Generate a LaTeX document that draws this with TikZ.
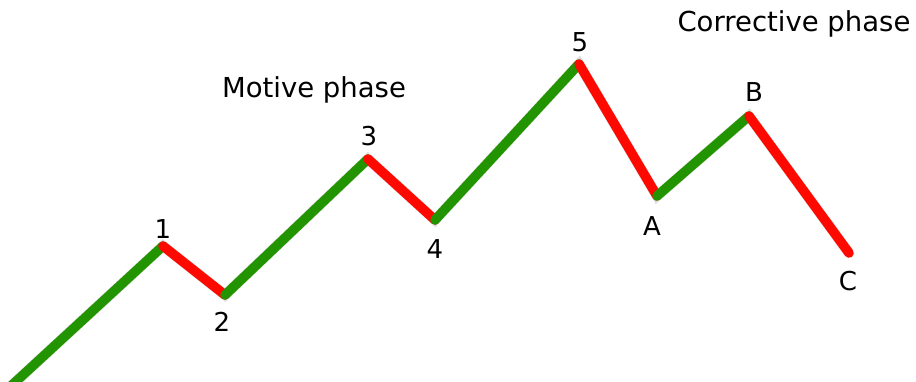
\documentclass[tikz,border=0pt]{standalone}
\usepackage{fontspec}
\setmainfont{DejaVu Sans}
\definecolor{wgreen}{RGB}{34,148,0}
\definecolor{wred}{RGB}{255,8,0}
\begin{document}
\begin{tikzpicture}[x=1pt,y=-1pt,
  seg/.style={line width=9.5pt,line cap=round,line join=round},
  up/.style={seg,draw=wgreen},
  down/.style={seg,draw=wred},
  shadowseg/.style={line width=10.5pt,line cap=round,draw=black,opacity=0.12,shift={(1.5,1.5)}},
  lbl/.style={font=\fontsize{26}{28}\selectfont,text=black,inner sep=0pt},
  phase/.style={font=\fontsize{27.5}{30}\selectfont,text=black,inner sep=0pt}]
\useasboundingbox (0,0) rectangle (916,381);
\clip (0,0) rectangle (916,381);
\coordinate (p0) at (11,386);
\coordinate (p1) at (163,246);
\coordinate (p2) at (225,295);
\coordinate (p3) at (368,159);
\coordinate (p4) at (435,220);
\coordinate (p5) at (579,64);
\coordinate (pA) at (657,196);
\coordinate (pB) at (749,116);
\coordinate (pC) at (849,253);
% shadow
\draw[shadowseg] (p0) -- (p1) -- (p2) -- (p3) -- (p4) -- (p5) -- (pA) -- (pB) -- (pC);
% waves
\draw[up] (p0) -- (p1);
\draw[down] (p1) -- (p2);
\draw[up] (p2) -- (p3);
\draw[down] (p3) -- (p4);
\draw[up] (p4) -- (p5);
\draw[down] (p5) -- (pA);
\draw[up] (pA) -- (pB);
\draw[down] (pB) -- (pC);
% labels
\node[lbl] (l1) at (163,229) {1};
\node[lbl] (l2) at (222,322) {2};
\node[lbl] (l3) at (369,136) {3};
\node[lbl] (l4) at (435,249) {4};
\node[lbl] (l5) at (580,42) {5};
\node[lbl] (lA) at (652,226) {A};
\node[lbl] (lB) at (754,92) {B};
\node[lbl] (lC) at (848,281) {C};
\node[phase] (motive) at (314,90) {Motive phase};
\node[phase] (corr) at (794,24) {Corrective phase};
\end{tikzpicture}
\end{document}
